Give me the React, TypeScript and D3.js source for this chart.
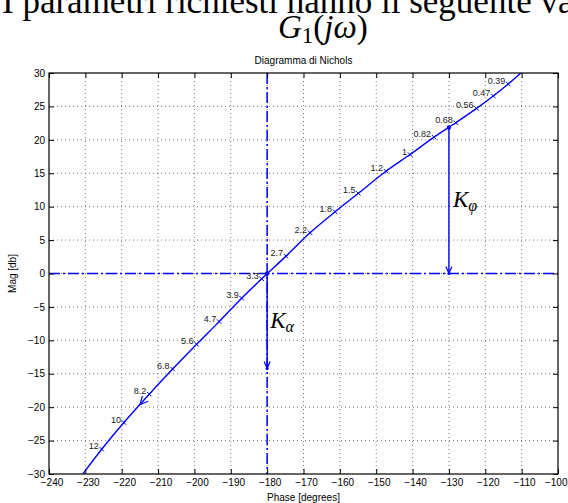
import { useEffect, useRef } from "react";
import * as d3 from "d3";

const W = 568;
const H = 503;

// axis ticks
const phaseTicks = d3.range(-240, -99, 10);
const magTicks = d3.range(-30, 31, 5);

// frequency markers on the Nichols curve (rad/s)
const omegaLabels = ["0.39", "0.47", "0.56", "0.68", "0.82", "1", "1.2", "1.5", "1.8", "2.2", "2.7", "3.3", "3.9", "4.7", "5.6", "6.8", "8.2", "10", "12"];
const markerPhase = [-113.7, -117.8, -122.4, -128.1, -134.1, -140.7, -147.3, -154.9, -161.3, -168.2, -174.8, -181.5, -187.0, -193.2, -199.4, -206.0, -212.4, -219.4, -225.5];
const markerMag = [28.35, 26.56, 24.7, 22.56, 20.4, 17.8, 15.3, 12.0, 9.24, 6.1, 2.6, -0.8, -3.7, -7.2, -10.6, -14.3, -18.05, -22.3, -26.3];

// where the curve leaves the box (low / high frequency end)
const curveStart = [-110.2, 30];
const curveEnd = [-230.7, -30];

// direction arrow on the curve
const dirArrow = [-215, -19.63];

// K_alpha and K_phi arrows: [phase, mag from, mag to]
const kAlpha = [-180, 0, -14.2];
const kPhi = [-130, 21.85, 0];

const BLUE = "#0000ff";
const SANS = "'Liberation Sans', Arial, sans-serif";
const SERIF = "'Liberation Serif', 'Times New Roman', serif";

export default function App() {
  const svgRef = useRef<SVGSVGElement>(null);

  useEffect(() => {
    const svg = d3.select(svgRef.current);
    svg.selectAll("*").remove();

    const x = d3.scaleLinear().domain([-240, -100]).range([49, 558]);
    const y = d3.scaleLinear().domain([-30, 30]).range([474, 73]);
    const [x0, x1] = x.range();
    const [y0, y1] = y.range();

    // document text above the figure (cut at the top)
    svg.append("text")
      .attr("x", 2).attr("y", 13)
      .style("font-family", SERIF).style("font-size", "35px")
      .text("I parametri richiesti hanno il seguente valore");

    const g1 = svg.append("text")
      .attr("x", 278).attr("y", 38)
      .style("font-family", SERIF).style("font-size", "33px");
    g1.append("tspan").style("font-style", "italic").text("G");
    g1.append("tspan").attr("dy", 5).style("font-size", "23px").text("1");
    g1.append("tspan").attr("dy", -5).text("(");
    g1.append("tspan").style("font-style", "italic").text("jω");
    g1.append("tspan").text(")");

    // title
    svg.append("text")
      .attr("x", (x0 + x1) / 2).attr("y", 64)
      .attr("text-anchor", "middle")
      .style("font-family", SANS).style("font-size", "10px")
      .text("Diagramma di Nichols");

    // dotted grid
    const grid = svg.append("g").attr("stroke", "#555").attr("stroke-width", 0.8).attr("stroke-dasharray", "1,3");
    grid.selectAll("line.gx").data(phaseTicks.slice(1, -1)).join("line")
      .attr("class", "gx")
      .attr("x1", d => x(d)).attr("x2", d => x(d))
      .attr("y1", y0).attr("y2", y1);
    grid.selectAll("line.gy").data(magTicks.slice(1, -1)).join("line")
      .attr("class", "gy")
      .attr("y1", d => y(d)).attr("y2", d => y(d))
      .attr("x1", x0).attr("x2", x1);

    // clip to the axes box
    svg.append("clipPath").attr("id", "plotclip")
      .append("rect").attr("x", x0).attr("y", y1).attr("width", x1 - x0).attr("height", y0 - y1);
    const plot = svg.append("g").attr("clip-path", "url(#plotclip)");

    // dash-dot reference lines at -180 deg and 0 dB
    plot.append("line")
      .attr("x1", x(-180)).attr("x2", x(-180)).attr("y1", y1).attr("y2", y0)
      .attr("stroke", BLUE).attr("stroke-width", 1.5).attr("stroke-dasharray", "11,3,2,3");
    plot.append("line")
      .attr("x1", x0).attr("x2", x1).attr("y1", y(0)).attr("y2", y(0))
      .attr("stroke", BLUE).attr("stroke-width", 1.5).attr("stroke-dasharray", "11,3,2,3");

    // Nichols curve
    const pts: [number, number][] = [
      [curveStart[0], curveStart[1]],
      ...markerPhase.map((p, i) => [p, markerMag[i]] as [number, number]),
      [curveEnd[0], curveEnd[1]],
    ];
    const line = d3.line<[number, number]>()
      .x(d => x(d[0])).y(d => y(d[1]))
      .curve(d3.curveCatmullRom);
    plot.append("path")
      .attr("d", line(pts))
      .attr("fill", "none").attr("stroke", BLUE).attr("stroke-width", 1.4);

    // x markers + frequency labels
    const mk = plot.selectAll("g.mk").data(omegaLabels).join("g")
      .attr("class", "mk")
      .attr("transform", (_, i) => `translate(${x(markerPhase[i])},${y(markerMag[i])})`);
    mk.append("path")
      .attr("d", "M-2.2,-2.2L2.2,2.2M-2.2,2.2L2.2,-2.2")
      .attr("stroke", BLUE).attr("stroke-width", 1);
    mk.append("text")
      .attr("x", -3).attr("y", 0)
      .attr("text-anchor", "end")
      .style("font-family", SANS).style("font-size", "9px").attr("fill", "#222")
      .text(d => d);

    // direction arrow on the curve (towards increasing omega)
    {
      const tx = x(dirArrow[0]);
      const ty = y(dirArrow[1]);
      const bx = x(markerPhase[16]) - x(markerPhase[17]);
      const by = y(markerMag[16]) - y(markerMag[17]);
      const a = Math.atan2(by, bx);
      const L = 9;
      const d = [a - 0.45, a + 0.45].map(t => `M${tx},${ty}L${tx + L * Math.cos(t)},${ty + L * Math.sin(t)}`).join("");
      plot.append("path").attr("d", d).attr("stroke", BLUE).attr("stroke-width", 1.2).attr("fill", "none");
    }

    // vertical arrows with dot at start and V head at end
    const drawArrow = (k: number[]) => {
      const ax = x(k[0]);
      const ya = y(k[1]);
      const yb = y(k[2]);
      plot.append("line").attr("x1", ax).attr("x2", ax).attr("y1", ya).attr("y2", yb)
        .attr("stroke", BLUE).attr("stroke-width", 1.4);
      plot.append("circle").attr("cx", ax).attr("cy", ya).attr("r", 2.2).attr("fill", BLUE);
      plot.append("circle").attr("cx", ax).attr("cy", yb).attr("r", 1.6).attr("fill", BLUE);
      plot.append("path")
        .attr("d", `M${ax - 3},${yb - 7}L${ax},${yb}L${ax + 3},${yb - 7}`)
        .attr("stroke", BLUE).attr("stroke-width", 1.2).attr("fill", "none");
    };
    drawArrow(kAlpha);
    drawArrow(kPhi);

    // K labels
    const kLabel = (px: number, py: number, sub: string) => {
      const t = svg.append("text").attr("x", px).attr("y", py)
        .style("font-family", SERIF).style("font-style", "italic").style("font-size", "23px");
      t.append("tspan").text("K");
      t.append("tspan").attr("dy", 4).style("font-size", "16px").text(sub);
    };
    kLabel(x(kAlpha[0]) + 3, 328, "α");
    kLabel(x(kPhi[0]) + 4, 207, "φ");

    // axes (ticks pointing inward, box on all sides)
    const styleAxis = (g: d3.Selection<SVGGElement, unknown, null, undefined>) => {
      g.select(".domain").remove();
      g.selectAll("line").attr("stroke", "#000");
      g.selectAll("text").style("font-family", SANS).style("font-size", "10px").attr("fill", "#000");
    };
    const fmt = d3.format("d");
    const bottom = svg.append("g").attr("transform", `translate(0,${y0})`)
      .call(d3.axisBottom(x).tickValues(phaseTicks).tickSize(-5).tickPadding(5).tickFormat(fmt))
      .call(styleAxis);
    // MATLAB puts the labels slightly right of the tick; last one pulled in to fit
    bottom.selectAll("text").attr("x", 2.5);
    bottom.selectAll<SVGTextElement, number>("text").filter(d => d === -100)
      .attr("text-anchor", "end").attr("x", 9);
    svg.append("g").attr("transform", `translate(0,${y1})`)
      .call(d3.axisTop(x).tickValues(phaseTicks).tickSize(-5).tickFormat(() => ""))
      .call(styleAxis);
    svg.append("g").attr("transform", `translate(${x0},0)`)
      .call(d3.axisLeft(y).tickValues(magTicks).tickSize(-5).tickPadding(4).tickFormat(fmt))
      .call(styleAxis);
    svg.append("g").attr("transform", `translate(${x1},0)`)
      .call(d3.axisRight(y).tickValues(magTicks).tickSize(-5).tickFormat(() => ""))
      .call(styleAxis);

    svg.append("rect")
      .attr("x", x0).attr("y", y1).attr("width", x1 - x0).attr("height", y0 - y1)
      .attr("fill", "none").attr("stroke", "#000").attr("stroke-width", 1.2);

    // axis labels
    svg.append("text")
      .attr("x", (x0 + x1) / 2).attr("y", 501)
      .attr("text-anchor", "middle")
      .style("font-family", SANS).style("font-size", "10px")
      .text("Phase [degrees]");
    svg.append("text")
      .attr("transform", `translate(16,${(y0 + y1) / 2}) rotate(-90)`)
      .attr("text-anchor", "middle")
      .style("font-family", SANS).style("font-size", "10px")
      .text("Mag [db]");
  }, []);

  return (
    <svg
      ref={svgRef}
      width={W}
      height={H}
      style={{ position: "absolute", left: 0, top: 0, background: "#fff" }}
    />
  );
}
